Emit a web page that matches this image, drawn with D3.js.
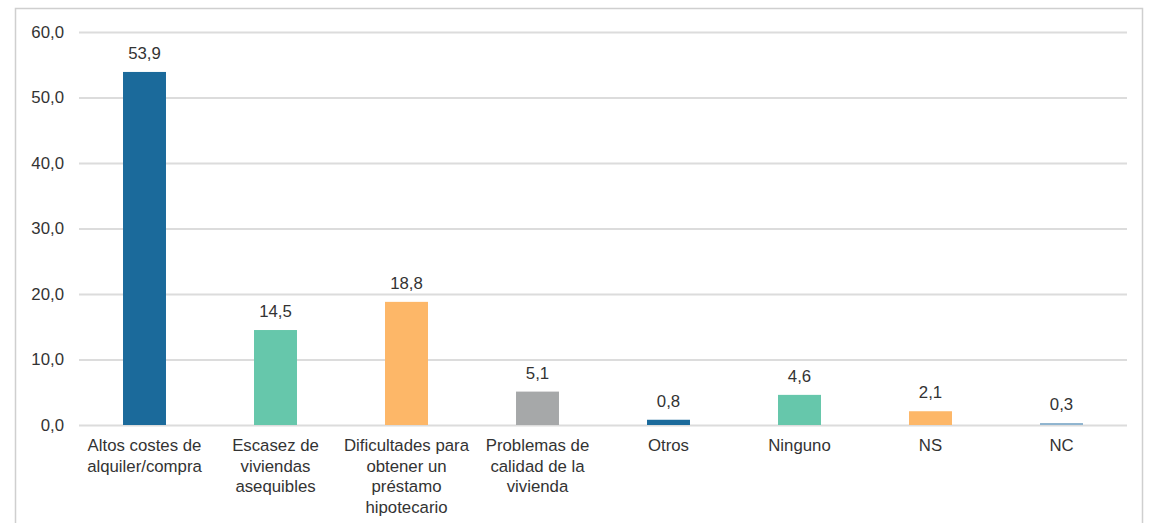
<!DOCTYPE html>
<html><head><meta charset="utf-8">
<script src="https://cdn.jsdelivr.net/npm/d3@7"></script>
<style>
html,body{margin:0;padding:0;background:#fff;}
svg{display:block;font-family:"Liberation Sans",Arial,Helvetica,sans-serif;}
</style></head>
<body>
<svg id="chart" width="1149" height="523"></svg>
<script>
const categories = ["Altos costes de\nalquiler/compra","Escasez de\nviviendas\nasequibles","Dificultades para\nobtener un\npréstamo\nhipotecario","Problemas de\ncalidad de la\nvivienda","Otros","Ninguno","NS","NC"];
const values = [53.9, 14.5, 18.8, 5.1, 0.8, 4.6, 2.1, 0.3];
const colors = ["#1b6a9b","#66c7ab","#fdb768","#a6a8a9","#1b6a9b","#66c7ab","#fdb768","#8fb4cf"];
const yTicks = [0,10,20,30,40,50,60];

(function(){
const svg = d3.select("#chart");
svg.append("rect").attr("x",15.5).attr("y",8.5).attr("width",1127).attr("height",530)
  .attr("fill","#fff").attr("stroke","#cfcfcf").attr("stroke-width",1.5);

const mLeft=79, mRight=1127, mTop=32, mBottom=425;
const fs = 16.8;
const x = d3.scaleBand().domain(categories).range([mLeft,mRight]).paddingInner(0.672).paddingOuter(0.336);
const y = d3.scaleLinear().domain([0,60]).range([mBottom,mTop]);
const fmt = d => d3.format(".1f")(d).replace(".",",");

const yAxis = d3.axisLeft(y).tickValues(yTicks).tickSize(-(mRight-mLeft)).tickFormat(fmt).tickPadding(15);
const gy = svg.append("g").attr("transform",`translate(${mLeft},0)`).call(yAxis);
gy.select(".domain").remove();
gy.selectAll(".tick line").attr("stroke","#dcdcdc").attr("stroke-width",2);
gy.selectAll(".tick text").attr("fill","#333").attr("font-size",fs);

svg.selectAll("rect.bar").data(values).enter().append("rect").attr("class","bar")
  .attr("x",(d,i)=>x(categories[i])).attr("width",x.bandwidth())
  .attr("y",d=>y(d)).attr("height",d=>mBottom-y(d))
  .attr("fill",(d,i)=>colors[i]);

svg.selectAll("text.val").data(values).enter().append("text").attr("class","val")
  .attr("x",(d,i)=>x(categories[i])+x.bandwidth()/2).attr("y",d=>y(d)-13)
  .attr("text-anchor","middle").attr("font-size",fs).attr("fill","#333").text(fmt);

const gx = svg.append("g").attr("transform",`translate(0,${mBottom})`).call(d3.axisBottom(x).tickSize(0).tickFormat(""));
gx.select(".domain").remove();
const lbl = svg.selectAll("text.cat").data(categories).enter().append("text").attr("class","cat")
  .attr("x",d=>x(d)+x.bandwidth()/2).attr("y",mBottom+26)
  .attr("text-anchor","middle").attr("font-size",fs).attr("fill","#333");
lbl.each(function(d){
  const t=d3.select(this);
  d.split("\n").forEach((s,k)=>t.append("tspan").attr("x",x(d)+x.bandwidth()/2).attr("dy",k?20.5:0).text(s));
});
})();
</script>
</body></html>
